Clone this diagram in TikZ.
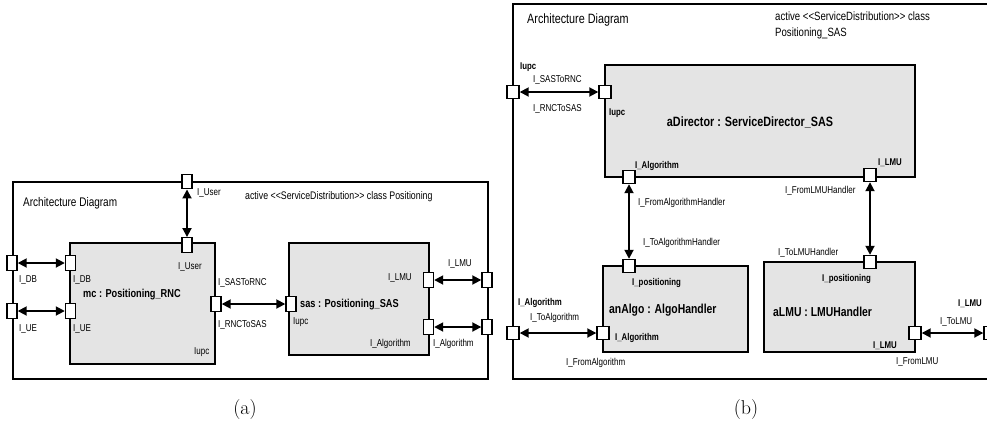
\documentclass[tikz,border=0pt]{standalone}
\usepackage{fontspec}
\usetikzlibrary{arrows.meta}
\newfontfamily\lab[FakeStretch=0.8]{Liberation Sans}
\definecolor{boxgray}{HTML}{E4E4E4}
\tikzset{
  frameline/.style={draw, line width=1.5pt},
  comp/.style={draw, line width=1.5pt, fill=boxgray},
  porta/.style={draw, fill=white, line width=1.4pt, minimum width=10pt, minimum height=14.5pt, inner sep=0pt},
  portb/.style={draw, fill=white, line width=1.4pt, minimum width=12pt, minimum height=13pt, inner sep=0pt},
  conn/.style={line width=1.8pt, {Triangle[length=9pt,width=9pt]}-{Triangle[length=9pt,width=9pt]}},
  sl/.style={font=\lab\fontsize{10}{12}\selectfont, inner sep=0pt, anchor=west},
  bl/.style={font=\lab\bfseries\fontsize{9.8}{12}\selectfont, inner sep=0pt, anchor=west},
  titletext/.style={font=\lab\fontsize{#1}{14}\selectfont, inner sep=0pt, anchor=west},
  cname/.style={font=\lab\bfseries\fontsize{#1}{14}\selectfont, inner sep=0pt, anchor=west},
  captext/.style={font=\fontsize{20}{24}\selectfont, inner sep=0pt}
}
\begin{document}
\begin{tikzpicture}[x=1pt,y=-1pt]
\clip (0,0) rectangle (987,432);
\useasboundingbox (0,0) rectangle (987,432);
% ================= (a) =================
\draw[frameline] (13,182) rectangle (488,379);
\draw[comp] (70,243) rectangle (215,364);
\draw[comp] (289,243) rectangle (429,355);
\node[titletext=12.5] (aTitle) at (23,203) {Architecture Diagram};
\node[titletext=11] (aAct) at (245,197) {active <<ServiceDistribution>> class Positioning};
\node[cname=11.5] (mcName) at (83,295) {mc : Positioning\_RNC};
\node[cname=11.5] (sasName) at (300,305) {sas : Positioning\_SAS};
% ports
\node[porta] (aUserO) at (187,181.5) {};
\node[porta] (aUserI) at (187,245) {};
\node[porta] (aDBO) at (12,263) {};
\node[porta] (aDBI) at (70.5,263) {};
\node[porta] (aUEO) at (12,311) {};
\node[porta] (aUEI) at (70.5,311) {};
\node[porta] (aRNCr) at (216,304) {};
\node[porta] (aSASl) at (291,304) {};
\node[porta] (aLMUI) at (428.5,280) {};
\node[porta] (aLMUO) at (487,280) {};
\node[porta] (aAlgI) at (428.5,327) {};
\node[porta] (aAlgO) at (487,327) {};
% connectors
\draw[conn] (aUserO) -- (aUserI);
\draw[conn] (aDBO) -- (aDBI);
\draw[conn] (aUEO) -- (aUEI);
\draw[conn] (aRNCr) -- (aSASl);
\draw[conn] (aLMUI) -- (aLMUO);
\draw[conn] (aAlgI) -- (aAlgO);
% labels
\node[sl] (lUserO) at (197,193) {I\_User};
\node[sl] (lUserI) at (178,267) {I\_User};
\node[sl] (lDBO) at (19,280) {I\_DB};
\node[sl] (lDBI) at (73,280) {I\_DB};
\node[sl] (lUEO) at (19,329) {I\_UE};
\node[sl] (lUEI) at (73,329) {I\_UE};
\node[sl] (lIupcA) at (194,352) {Iupc};
\node[sl] (lS2R) at (218,283) {I\_SASToRNC};
\node[sl] (lR2S) at (218,325) {I\_RNCToSAS};
\node[sl] (lIupcS) at (293,322) {Iupc};
\node[sl] (lLMUI) at (388,278) {I\_LMU};
\node[sl] (lLMUO) at (448,264) {I\_LMU};
\node[sl] (lAlgI) at (370,344) {I\_Algorithm};
\node[sl] (lAlgO) at (433,344) {I\_Algorithm};
\node[captext] (capA) at (245,409) {(a)};
% ================= (b) =================
\draw[frameline] (513,4) rectangle (990,379);
\draw[comp] (605,65) rectangle (915,177);
\draw[comp] (603,266) rectangle (748,352);
\draw[comp] (764,262) rectangle (915,352);
\node[titletext=13.5] (bTitle) at (527,20) {Architecture Diagram};
\node[titletext=12] (bAct1) at (775,16) {active <<ServiceDistribution>> class};
\node[titletext=12] (bAct2) at (775,33) {Positioning\_SAS};
\node[cname=13.5, anchor=center] (dirName) at (750,122) {aDirector : ServiceDirector\_SAS};
\node[cname=13] (algName) at (609,310) {anAlgo : AlgoHandler};
\node[cname=13] (lmuName) at (773,312) {aLMU : LMUHandler};
% ports
\node[portb] (bIupcO) at (513,92) {};
\node[portb] (bIupcI) at (605,92) {};
\node[portb] (bAlgD) at (629,177) {};
\node[portb] (bLMUD) at (870,175) {};
\node[portb] (bPosA) at (629,266) {};
\node[portb] (bPosL) at (870,262) {};
\node[portb] (bAlgA) at (603,333) {};
\node[portb] (bAlgO) at (513,333) {};
\node[portb] (bLMUH) at (915,333) {};
\node[portb] (bLMUO) at (990,333) {};
% connectors
\draw[conn] (bIupcO) -- (bIupcI);
\draw[conn] (bAlgD) -- (bPosA);
\draw[conn] (bLMUD) -- (bPosL);
\draw[conn] (bAlgO) -- (bAlgA);
\draw[conn] (bLMUH) -- (bLMUO);
% labels
\node[bl] (lbIupcO) at (520,67) {Iupc};
\node[sl] (lbS2R) at (533,80) {I\_SASToRNC};
\node[sl] (lbR2S) at (533,109) {I\_RNCToSAS};
\node[bl] (lbIupcI) at (609,113) {Iupc};
\node[bl] (lbAlgD) at (635,166) {I\_Algorithm};
\node[bl] (lbLMUD) at (878,163) {I\_LMU};
\node[sl] (lbFLH) at (785,191) {I\_FromLMUHandler};
\node[sl] (lbFAH) at (638,203) {I\_FromAlgorithmHandler};
\node[sl] (lbTAH) at (643,243) {I\_ToAlgorithmHandler};
\node[sl] (lbTLH) at (778,253) {I\_ToLMUHandler};
\node[bl] (lbPosA) at (632,283) {I\_positioning};
\node[bl] (lbPosL) at (822,279) {I\_positioning};
\node[bl] (lbAlgA) at (615,338) {I\_Algorithm};
\node[bl] (lbAlgO) at (518,303) {I\_Algorithm};
\node[sl] (lbTA) at (530,318) {I\_ToAlgorithm};
\node[sl] (lbFA) at (566,363) {I\_FromAlgorithm};
\node[bl] (lbLMUH) at (873,346) {I\_LMU};
\node[sl] (lbFL) at (896,362) {I\_FromLMU};
\node[bl] (lbLMUO) at (958,304) {I\_LMU};
\node[sl] (lbTL) at (940,322) {I\_ToLMU};
\node[captext] (capB) at (746,409) {(b)};
\end{tikzpicture}
\end{document}
